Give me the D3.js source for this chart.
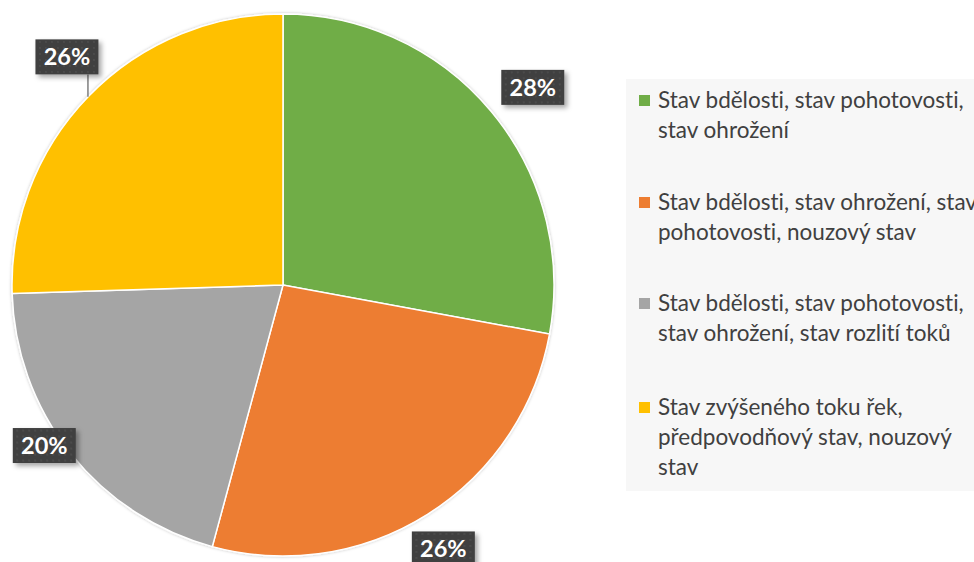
<!DOCTYPE html>
<html>
<head>
<meta charset="utf-8">
<script src="https://cdn.jsdelivr.net/npm/d3@7"></script>
<style>
  body { margin: 0; background: #fff; }
  svg { display: block; font-family: Lato, "Open Sans", sans-serif; font-variant-ligatures: none; }
</style>
</head>
<body>
<div id="figure-container"></div>
<script>
var categories = [
  ['Stav bdělosti, stav pohotovosti,', 'stav ohrožení'],
  ['Stav bdělosti, stav ohrožení, stav', 'pohotovosti, nouzový stav'],
  ['Stav bdělosti, stav pohotovosti,', 'stav ohrožení, stav rozlití toků'],
  ['Stav zvýšeného toku řek,', 'předpovodňový stav, nouzový', 'stav']
];
// shares (labels are the rounded values)
var values = [27.9, 26.3, 20.3, 25.5];
var labels = ['28%', '26%', '20%', '26%'];
var colors = ['#70ad47', '#ed7d31', '#a5a5a5', '#ffc000'];

var fullWidth = 974, fullHeight = 562;
var cx = 283, cy = 285, radius = 271;

var svg = d3.select('#figure-container')
  .append('svg')
  .attr('width', fullWidth)
  .attr('height', fullHeight);

var defs = svg.append('defs');
var pat = defs.append('pattern')
  .attr('id', 'dots')
  .attr('width', 6).attr('height', 6)
  .attr('patternUnits', 'userSpaceOnUse');
pat.append('rect').attr('width', 6).attr('height', 6).attr('fill', '#404040');
pat.append('rect').attr('x', 2).attr('y', 2).attr('width', 2).attr('height', 2).attr('fill', '#4b4b4b');

var shadow = defs.append('filter').attr('id', 'shadow')
  .attr('x', '-20%').attr('y', '-20%').attr('width', '150%').attr('height', '160%');
shadow.append('feDropShadow')
  .attr('dx', 3).attr('dy', 3).attr('stdDeviation', 2.5)
  .attr('flood-color', '#000').attr('flood-opacity', 0.35);

var pieShadow = defs.append('filter').attr('id', 'pieShadow')
  .attr('x', '-5%').attr('y', '-5%').attr('width', '110%').attr('height', '110%');
pieShadow.append('feDropShadow')
  .attr('dx', 0).attr('dy', 0).attr('stdDeviation', 1.5)
  .attr('flood-color', '#000').attr('flood-opacity', 0.25);

// legend panel
svg.append('rect')
  .attr('x', 626).attr('y', 79)
  .attr('width', 360).attr('height', 412)
  .attr('fill', '#f7f7f7');

var pie = d3.pie().sort(null).value(function(d) { return d; });
var arcs = pie(values);

var arc = d3.arc().innerRadius(0).outerRadius(radius);

var g = svg.append('g').attr('transform', `translate(${cx},${cy})`);

g.append('g')
  .attr('filter', 'url(#pieShadow)')
  .selectAll('path.slice')
  .data(arcs)
  .enter()
  .append('path')
  .attr('class', 'slice')
  .attr('d', arc)
  .attr('fill', function(d, i) { return colors[i]; })
  .attr('stroke', '#fff')
  .attr('stroke-width', 1.5);

// data labels, placed outside like Excel does (radius + small nudges)
var labelArc = d3.arc().innerRadius(312).outerRadius(312);
var nudge = [[10, 2], [-6, 0], [6, -33], [8, -11]];
var boxW = 63, boxH = 35;

var lab = g.selectAll('g.lab')
  .data(arcs)
  .enter()
  .append('g')
  .attr('class', 'lab')
  .attr('transform', function(d, i) {
    var c = labelArc.centroid(d);
    return `translate(${c[0] + nudge[i][0]},${c[1] + nudge[i][1]})`;
  });

// leader line for the top-left label, down to the pie edge
lab.filter(function(d, i) { return i === 3; })
  .append('line')
  .attr('x1', 21).attr('y1', boxH / 2)
  .attr('x2', 21)
  .attr('stroke', '#7f7f7f')
  .attr('stroke-width', 1.5)
  .each(function(d) {
    var c = labelArc.centroid(d);
    var px = c[0] + nudge[3][0] + 21;
    var py = c[1] + nudge[3][1];
    var edge = -Math.sqrt(radius * radius - px * px);
    d3.select(this).attr('y2', edge - py);
  });

lab.append('rect')
  .attr('x', -boxW / 2).attr('y', -boxH / 2)
  .attr('width', boxW).attr('height', boxH)
  .attr('fill', 'url(#dots)')
  .attr('filter', 'url(#shadow)');

lab.append('text')
  .attr('text-anchor', 'middle')
  .attr('dy', '0.36em')
  .attr('fill', '#fff')
  .attr('font-weight', 'bold')
  .attr('font-size', 23.5)
  .text(function(d, i) { return labels[i]; });

// legend
var itemY = [108, 210, 311, 415];
var lineH = 30;
var leg = svg.append('g').attr('class', 'legend');

var item = leg.selectAll('g.item')
  .data(categories)
  .enter()
  .append('g')
  .attr('class', 'item')
  .attr('transform', function(d, i) { return `translate(639,${itemY[i]})`; });

item.append('rect')
  .attr('x', 0).attr('y', -13)
  .attr('width', 11).attr('height', 11)
  .attr('fill', function(d, i) { return colors[i]; });

item.append('text')
  .attr('fill', '#404040')
  .attr('font-size', 22.5)
  .selectAll('tspan')
  .data(function(d) { return d; })
  .enter()
  .append('tspan')
  .attr('x', 19)
  .attr('y', function(d, j) { return j * lineH; })
  .text(function(d) { return d; });
</script>
</body>
</html>
